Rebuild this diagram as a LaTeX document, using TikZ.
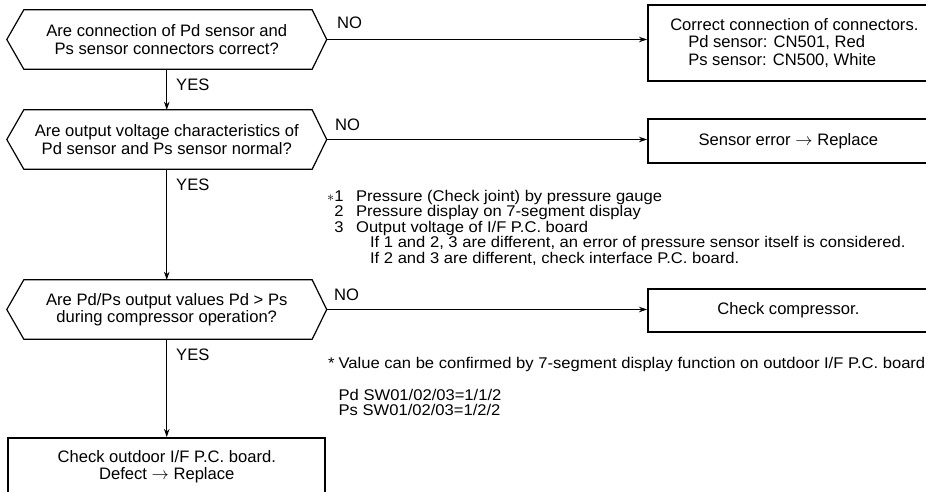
\documentclass[tikz,border=0pt]{standalone}
\usepackage{fontspec}
\setmainfont{Liberation Sans}
\newfontfamily\notefont[FakeStretch=1.07]{Liberation Sans}
\usetikzlibrary{arrows.meta,calc}
\newcommand\hexoutline[1]{%
  \draw[line width=1.2pt] ([xshift=17pt]#1.north west) -- ([xshift=-14.5pt]#1.north east)
    -- (#1.east) -- ([xshift=-14.5pt]#1.south east) -- ([xshift=17pt]#1.south west)
    -- (#1.west) -- cycle;}
\begin{document}
\begin{tikzpicture}[x=1pt,y=-1pt,
  txt/.style={font=\fontsize{16.6}{17.5}\selectfont},
  decision/.style={txt, minimum width=319.5pt, minimum height=59pt, inner sep=0pt, align=center},
  actbox/.style={txt, draw, line width=1.7pt, inner sep=0pt, align=center},
  flow/.style={line width=1pt, -{Stealth[length=8pt,width=5.5pt]}},
  lbl/.style={txt, inner sep=0pt, anchor=west},
  note/.style={font=\notefont\fontsize{15.5}{14.5}\selectfont, inner sep=0pt, anchor=base west}
]
\useasboundingbox (0,0) rectangle (926,491);

% decisions
\node[decision] (q1) at (166.75,39.5) {Are connection of Pd sensor and\\Ps sensor connectors correct?};
\node[decision] (q2) at (166.75,139.5) {Are output voltage characteristics of\\Pd sensor and Ps sensor normal?};
\node[decision] (q3) at (166.75,309.5) {Are Pd/Ps output values Pd > Ps\\during compressor operation?};
\hexoutline{q1}
\hexoutline{q2}
\hexoutline{q3}

% action boxes
\node[actbox, align=left, minimum width=281pt, minimum height=76pt, anchor=north west] (r1) at (647,4)
  {\hspace*{12pt}Correct connection of connectors.\\\hspace*{30pt}Pd sensor: CN501, Red\\\hspace*{30pt}Ps sensor: CN500, White};
\node[actbox, minimum width=281pt, minimum height=44pt, anchor=north west] (r2) at (647,118)
  {Sensor error $\rightarrow$ Replace};
\node[actbox, minimum width=281pt, minimum height=43pt, anchor=north west] (r3) at (647,288)
  {Check compressor.};
\node[actbox, font=\fontsize{16.6}{17}\selectfont, minimum width=317pt, minimum height=58pt, anchor=north] (r4) at (166.75,437)
  {Check outdoor I/F P.C. board.\\Defect $\rightarrow$ Replace};

% connectors
\draw[flow] (q1.south) -- (q2.north);
\draw[flow] (q2.south) -- (q3.north);
\draw[flow] (q3.south) -- (r4.north);
\draw[flow] (q1.east) -- (q1.east -| r1.west);
\draw[flow] (q2.east) -- (q2.east -| r2.west);
\draw[flow] (q3.east) -- (q3.east -| r3.west);

% labels
\node[lbl] (y1) at (176,85) {YES};
\node[lbl] (y2) at (176,185) {YES};
\node[lbl] (y3) at (176,355) {YES};
\node[lbl] (n1) at (337,23) {NO};
\node[lbl] (n2) at (335,125) {NO};
\node[lbl] (n3) at (334,295) {NO};

% notes
\node[note] (nt1) at (327,201) {\begin{tabular}[t]{@{}r@{\hspace{12.5pt}}l@{}}
$\ast$1 & Pressure (Check joint) by pressure gauge\\
2 & Pressure display on 7-segment display\\
3 & Output voltage of I/F P.C. board\\
 & \hspace*{14pt}If 1 and 2, 3 are different, an error of pressure sensor itself is considered.\\
 & \hspace*{14pt}If 2 and 3 are different, check interface P.C. board.
\end{tabular}};
\node[note] (nt2) at (328,368) {\begin{tabular}[t]{@{}l@{\hspace{4pt}}l@{}}
* & Value can be confirmed by 7-segment display function on outdoor I/F P.C. board\\[16.5pt]
 & Pd SW01/02/03=1/1/2\\
 & Ps SW01/02/03=1/2/2
\end{tabular}};
\end{tikzpicture}
\end{document}
